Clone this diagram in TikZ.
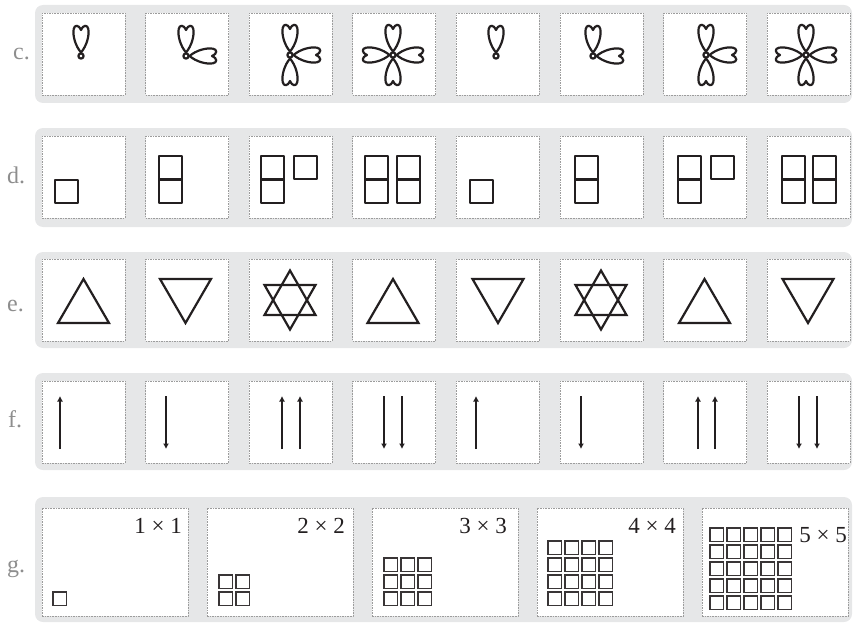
\documentclass[tikz,border=0pt]{standalone}
\usepackage{fontspec}
\setmainfont{Liberation Serif}
\usetikzlibrary{arrows.meta}
\definecolor{bandgray}{HTML}{E6E7E8}
\definecolor{boxgray}{HTML}{9C9C9C}
\definecolor{labgray}{HTML}{8E8E8E}
\definecolor{ink}{HTML}{231F20}
\tikzset{
  band/.style={fill=bandgray,rounded corners=8pt},
  cell/.style={draw=boxgray,fill=white,line width=0.8pt,dash pattern=on 1.6pt off 1pt,
    anchor=north west,inner sep=0pt,outer sep=0pt},
  figline/.style={draw=ink,line width=2.2pt,line join=round},
  triline/.style={draw=ink,line width=2.2pt,line join=miter},
  gridsq/.style={draw=ink!90,line width=1.5pt},
  upar/.style={figline,-{Latex[length=5.5pt,width=6pt]}},
  rowlab/.style={anchor=base west,text=labgray,font=\fontsize{24}{28}\selectfont,inner sep=0pt},
  dimlab/.style={anchor=base east,text=ink,font=\fontsize{23}{26}\selectfont,inner sep=0pt},
  petal/.pic={
    \draw[figline] (0pt,3.5pt) .. controls (-5.5pt,10pt) and (-8.5pt,20pt) .. (-7.3pt,27pt)
      .. controls (-6.5pt,31pt) and (-2.8pt,32pt) .. (0pt,26pt)
      .. controls (2.8pt,32pt) and (6.5pt,31pt) .. (7.3pt,27pt)
      .. controls (8.5pt,20pt) and (5.5pt,10pt) .. cycle;
  }
}

\begin{document}
\begin{tikzpicture}[x=1pt,y=-1pt]
\useasboundingbox (0,0) rectangle (853,623);
% Bands
\fill[band] (35,5) rectangle (852,103);
\fill[band] (35,128) rectangle (852,227);
\fill[band] (35,252) rectangle (852,348);
\fill[band] (35,373) rectangle (852,470);
\fill[band] (35,497) rectangle (852,622);

% Row labels
\node[rowlab] (labc) at (13,60) {c.};
\node[rowlab] (labd) at (7,183) {d.};
\node[rowlab] (labe) at (7,311) {e.};
\node[rowlab] (labf) at (8,427) {f.};
\node[rowlab] (labg) at (7,572) {g.};

% Boxes
\foreach \r/\t in {c/13,d/136,e/259,f/381}
  \foreach \i in {1,...,8}
    \node[cell,minimum width=83pt,minimum height=82pt] (\r\i) at ({42+103.6*(\i-1)},\t) {};
\foreach \i in {1,...,5}
  \node[cell,minimum width=146pt,minimum height=108pt] (g\i) at ({42+165*(\i-1)},508) {};

% Row c: petals
\pic at (81,56) {petal};
\draw[figline,fill=white] (81,56) circle (2.6pt);
\pic at (186,56) {petal}; \pic[rotate=-90] at (186,56) {petal};
\draw[figline,fill=white] (186,56) circle (2.6pt);
\pic at (290,55) {petal}; \pic[rotate=-90] at (290,55) {petal}; \pic[rotate=180] at (290,55) {petal};
\draw[figline,fill=white] (290,55) circle (2.6pt);
\pic at (393,55) {petal}; \pic[rotate=-90] at (393,55) {petal};
\pic[rotate=180] at (393,55) {petal}; \pic[rotate=90] at (393,55) {petal};
\draw[figline,fill=white] (393,55) circle (2.6pt);
\pic at (496,56) {petal};
\draw[figline,fill=white] (496,56) circle (2.6pt);
\pic at (593,56) {petal}; \pic[rotate=-90] at (593,56) {petal};
\draw[figline,fill=white] (593,56) circle (2.6pt);
\pic at (706,55) {petal}; \pic[rotate=-90] at (706,55) {petal}; \pic[rotate=180] at (706,55) {petal};
\draw[figline,fill=white] (706,55) circle (2.6pt);
\pic at (806,55) {petal}; \pic[rotate=-90] at (806,55) {petal};
\pic[rotate=180] at (806,55) {petal}; \pic[rotate=90] at (806,55) {petal};
\draw[figline,fill=white] (806,55) circle (2.6pt);

% Row d: squares
\draw[figline] (55,180) rectangle +(23,23);
\draw[figline] (159,156) rectangle +(23,47); \draw[figline] (159,179.5) -- +(23,0);
\draw[figline] (261,156) rectangle +(23,47); \draw[figline] (261,179.5) -- +(23,0);
\draw[figline] (294,156) rectangle +(23,23);
\draw[figline] (365,156) rectangle +(23,47); \draw[figline] (365,179.5) -- +(23,0);
\draw[figline] (397,156) rectangle +(23,47); \draw[figline] (397,179.5) -- +(23,0);
\draw[figline] (470,180) rectangle +(23,23);
\draw[figline] (575,156) rectangle +(23,47); \draw[figline] (575,179.5) -- +(23,0);
\draw[figline] (678,156) rectangle +(23,47); \draw[figline] (678,179.5) -- +(23,0);
\draw[figline] (711,156) rectangle +(23,23);
\draw[figline] (782,156) rectangle +(23,47); \draw[figline] (782,179.5) -- +(23,0);
\draw[figline] (813,156) rectangle +(23,47); \draw[figline] (813,179.5) -- +(23,0);

% Row e: triangles
\foreach \x in {83.5,393,704.5}
  \draw[triline] (\x-25.5,323) -- (\x+25.5,323) -- (\x,279) -- cycle;
\foreach \x in {185.5,498,808}
  \draw[triline] (\x-25.5,279) -- (\x+25.5,279) -- (\x,323) -- cycle;
\foreach \x in {290,601} {
  \draw[triline] (\x-25.5,315) -- (\x+25.5,315) -- (\x,270.5) -- cycle;
  \draw[triline] (\x-25.5,285) -- (\x+25.5,285) -- (\x,329.5) -- cycle;
}

% Row f: arrows
\foreach \x in {60,282,300,476,698,715}
  \draw[upar] (\x,449) -- (\x,396);
\foreach \x in {166,384,402,581,799,817}
  \draw[upar] (\x,396) -- (\x,449);

% Row g: grids
\foreach \n/\x/\b in {1/52/606,2/218/606,3/383/606,4/547/606,5/709/610}
  \foreach \i in {1,...,\n}
    \foreach \j in {1,...,\n}
      \draw[gridsq] ({\x+17*(\i-1)+0.75},{\b-17*(\j-1)-0.75}) rectangle +(13.5,-13.5);
\node[dimlab] (dim1) at (182,533) {1 × 1};
\node[dimlab] (dim2) at (345,533) {2 × 2};
\node[dimlab] (dim3) at (507,533) {3 × 3};
\node[dimlab] (dim4) at (676,533) {4 × 4};
\node[dimlab] (dim5) at (847,542) {5 × 5};
\end{tikzpicture}
\end{document}
